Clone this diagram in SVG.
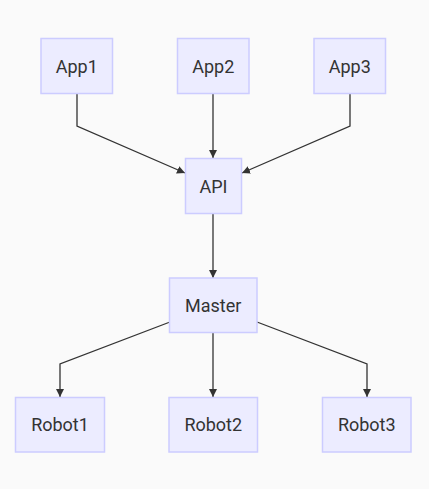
<svg xmlns="http://www.w3.org/2000/svg" width="429" height="489" viewBox="0 0 429 489">
<style>
.node rect{fill:#ECECFF;stroke:#CCCCFF;stroke-width:1.5}
.node text{font-family:Roboto,"Open Sans","Liberation Sans",sans-serif;font-size:18px;fill:#333;text-anchor:middle;dominant-baseline:central}
.edges path{fill:none;stroke:#333;stroke-width:1.3}
</style>
<defs>
<marker id="arr" viewBox="0 0 10 10" refX="10" refY="5" markerWidth="8" markerHeight="8" markerUnits="userSpaceOnUse" orient="auto"><path d="M0,0 L10,5 L0,10 z" fill="#333"/></marker>
</defs>
<rect width="429" height="489" fill="#fafafa"/>
<g class="edges">
<path d="M77,93 V126 L185,173" marker-end="url(#arr)"/>
<path d="M213,93 V158" marker-end="url(#arr)"/>
<path d="M350,93 V126 L242,173" marker-end="url(#arr)"/>
<path d="M213,213 V278" marker-end="url(#arr)"/>
<path d="M170,322 L60,364 V397" marker-end="url(#arr)"/>
<path d="M213,332 V397" marker-end="url(#arr)"/>
<path d="M257,322 L367,364 V397" marker-end="url(#arr)"/>
</g>
<g id="App1" class="node"><rect x="41" y="38.5" width="71.5" height="55"/><text x="76.75" y="66">App1</text></g>
<g id="App2" class="node"><rect x="177.5" y="38.5" width="71.5" height="55"/><text x="213.25" y="66">App2</text></g>
<g id="App3" class="node"><rect x="314" y="38.5" width="71.5" height="55"/><text x="349.75" y="66">App3</text></g>
<g id="API" class="node"><rect x="185.5" y="158.5" width="56" height="55"/><text x="213.5" y="186">API</text></g>
<g id="Master" class="node"><rect x="169.5" y="278" width="87.5" height="54.5"/><text x="213.25" y="305">Master</text></g>
<g id="Robot1" class="node"><rect x="15.5" y="397.5" width="89" height="54.5"/><text x="60" y="424.5">Robot1</text></g>
<g id="Robot2" class="node"><rect x="169" y="397.5" width="88.5" height="54.5"/><text x="213.25" y="424.5">Robot2</text></g>
<g id="Robot3" class="node"><rect x="322.5" y="397.5" width="88.5" height="54.5"/><text x="366.75" y="424.5">Robot3</text></g>
</svg>
